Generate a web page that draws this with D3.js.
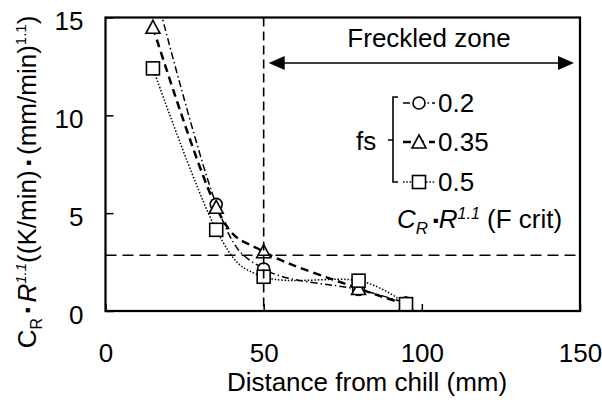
<!DOCTYPE html>
<html><head><meta charset="utf-8">
<script src="https://cdn.jsdelivr.net/npm/d3@7"></script>
<style>
body{margin:0;background:#fff}
text{font-family:"Liberation Sans",Arial,sans-serif;fill:#000}
</style></head>
<body><svg id="c" width="602" height="405"></svg>
<script>
// ---- data ----
const distance = [15, 35, 50, 80, 95];
const fs02 = [16.8, 5.45, 2.15, 1.1, 0.4];
const fs035 = [14.5, 5.3, 3.03, 1.15, 0.35];
const fs05 = [12.4, 4.15, 1.75, 1.55, 0.35];
const seriesNames = ["0.2", "0.35", "0.5"];
const xTicks = [0, 50, 100, 150];
const yTicks = [0, 5, 10, 15];
const critValue = 2.85;
const freckleStart = 50;

// ---- setup ----
const svg = d3.select("#c");
const L = 105.5, R = 580, T = 17.5, B = 311;
const x = d3.scaleLinear().domain([0, 150]).range([L, R]);
const y = d3.scaleLinear().domain([0, 15]).range([B, T]);
const FS = 26;
const FF = '"Liberation Sans",Arial,sans-serif';

svg.append("defs").append("clipPath").attr("id", "clip")
  .append("rect").attr("x", L).attr("y", T).attr("width", R - L).attr("height", B - T);

// axes (ticks inside)
const ax = svg.append("g").attr("transform", `translate(0,${B})`)
  .call(d3.axisBottom(x).tickValues(xTicks).tickSize(-7).tickPadding(0).tickFormat(d3.format("d")));
ax.select(".domain").remove();
ax.selectAll(".tick line").attr("stroke", "#000").attr("stroke-width", 1.5);
ax.selectAll(".tick text").attr("font-size", FS).attr("y", 51).attr("dy", 0).style("font-family", FF);

const ay = svg.append("g").attr("transform", `translate(${L},0)`)
  .call(d3.axisLeft(y).tickValues(yTicks).tickSize(-8).tickPadding(0).tickFormat(d3.format("d")));
ay.select(".domain").remove();
ay.selectAll(".tick line").attr("stroke", "#000").attr("stroke-width", 1.5);
ay.selectAll(".tick text").attr("font-size", FS).attr("x", -22).attr("dy", "0.36em")
  .attr("transform", "translate(0,3)").style("font-family", FF);

// frame
svg.append("rect").attr("x", L).attr("y", T).attr("width", R - L).attr("height", B - T)
  .attr("fill", "none").attr("stroke", "#000").attr("stroke-width", 2.25);

// series
const series = [
  {name: seriesNames[0], vals: fs02, dash: "7,3,1.5,3", w: 1.5, marker: "circle"},
  {name: seriesNames[1], vals: fs035, dash: "8,5", w: 2.5, marker: "triangle"},
  {name: seriesNames[2], vals: fs05, dash: "1.5,1.8", w: 1.5, marker: "square"}
];
const line = d3.line().x(d => x(d[0])).y(d => y(d[1])).curve(d3.curveCardinal.tension(0));
const gPlot = svg.append("g").attr("clip-path", "url(#clip)");

function drawMarker(g, type, cx, cy) {
  if (type === "circle") {
    g.append("circle").attr("cx", cx).attr("cy", cy).attr("r", 6)
      .attr("fill", "#fff").attr("stroke", "#000").attr("stroke-width", 1.6);
  } else if (type === "triangle") {
    g.append("path").attr("d", `M${cx},${cy - 7}L${cx + 7},${cy + 6}L${cx - 7},${cy + 6}Z`)
      .attr("fill", "#fff").attr("stroke", "#000").attr("stroke-width", 1.6);
  } else {
    g.append("rect").attr("x", cx - 6.5).attr("y", cy - 6.5).attr("width", 13).attr("height", 13)
      .attr("fill", "#fff").attr("stroke", "#000").attr("stroke-width", 1.6);
  }
}

series.forEach(s => {
  const pts = distance.map((d, i) => [d, s.vals[i]]);
  gPlot.append("path").attr("d", line(pts)).attr("fill", "none").attr("stroke", "#000")
    .attr("stroke-width", s.w).attr("stroke-dasharray", s.dash);
});
series.forEach(s => {
  distance.forEach((d, i) => {
    if (s.vals[i] <= 15) drawMarker(gPlot, s.marker, x(d), y(s.vals[i]));
  });
});

// reference lines
svg.append("line").attr("x1", x(freckleStart)).attr("x2", x(freckleStart)).attr("y1", T).attr("y2", B)
  .attr("stroke", "#000").attr("stroke-width", 1.6).attr("stroke-dasharray", "9,5");
svg.append("line").attr("x1", L).attr("x2", R).attr("y1", y(critValue)).attr("y2", y(critValue))
  .attr("stroke", "#000").attr("stroke-width", 1.6).attr("stroke-dasharray", "11,6");

// freckled zone arrow
const ay0 = 63;
const xa = x(freckleStart) + 5, xb = R - 6;
svg.append("line").attr("x1", xa + 14).attr("x2", xb - 14).attr("y1", ay0).attr("y2", ay0)
  .attr("stroke", "#000").attr("stroke-width", 1.6);
svg.append("path").attr("d", `M${xa},${ay0}L${xa + 16},${ay0 - 7}L${xa + 16},${ay0 + 7}Z`).attr("fill", "#000");
svg.append("path").attr("d", `M${xb},${ay0}L${xb - 16},${ay0 - 7}L${xb - 16},${ay0 + 7}Z`).attr("fill", "#000");
svg.append("text").attr("x", 429).attr("y", 47).attr("text-anchor", "middle")
  .attr("font-size", FS).text("Freckled zone");

// legend
const legRows = [103, 142, 182];
const lg = svg.append("g");
series.forEach((s, i) => {
  const yy = legRows[i];
  lg.append("line").attr("x1", 403).attr("x2", 435).attr("y1", yy).attr("y2", yy)
    .attr("stroke", "#000").attr("stroke-width", s.w).attr("stroke-dasharray", s.dash);
  drawMarker(lg, s.marker, 419, yy);
  lg.append("text").attr("x", 438).attr("y", yy).attr("dy", "0.36em").attr("font-size", FS).text(s.name);
});
lg.append("path").attr("d", "M398,97H393V182H398M393,140H388").attr("fill", "none")
  .attr("stroke", "#000").attr("stroke-width", 1.6);
lg.append("text").attr("x", 356).attr("y", 141).attr("dy", "0.36em").attr("font-size", FS).text("fs");

// F crit label
const fc = svg.append("text").attr("x", 397).attr("y", 228).attr("font-size", FS);
fc.append("tspan").attr("font-style", "italic").text("C");
fc.append("tspan").attr("font-style", "italic").attr("font-size", 17).attr("dy", 6).text("R");
fc.append("tspan").attr("font-size", 17).attr("dy", -8).text(" ▪");
fc.append("tspan").attr("font-style", "italic").attr("dy", 2).text("R");
fc.append("tspan").attr("font-style", "italic").attr("font-size", 16).attr("dy", -9).text("1.1");
fc.append("tspan").attr("dy", 9).text(" (F crit)");

// axis titles
svg.append("text").attr("x", 367).attr("y", 391).attr("text-anchor", "middle")
  .attr("font-size", FS).text("Distance from chill (mm)");

const yl = svg.append("text").attr("transform", `translate(36,${182}) rotate(-90)`)
  .attr("text-anchor", "middle").attr("font-size", FS);
yl.append("tspan").text("C");
yl.append("tspan").attr("font-size", 16).attr("dy", 6).text("R");
yl.append("tspan").attr("font-size", 17).attr("dy", -9).text(" ▪ ");
yl.append("tspan").attr("font-style", "italic").attr("dy", 3).text("R");
yl.append("tspan").attr("font-style", "italic").attr("font-size", 15).attr("dy", -10).text("1.1");
yl.append("tspan").attr("dy", 10).text("((K/min)");
yl.append("tspan").attr("font-size", 17).attr("dy", -2).text(" ▪ ");
yl.append("tspan").attr("dy", 2).text("(mm/min)");
yl.append("tspan").attr("font-size", 15).attr("dy", -10).text("1.1");
yl.append("tspan").attr("dy", 10).text(")");
</script></body></html>
